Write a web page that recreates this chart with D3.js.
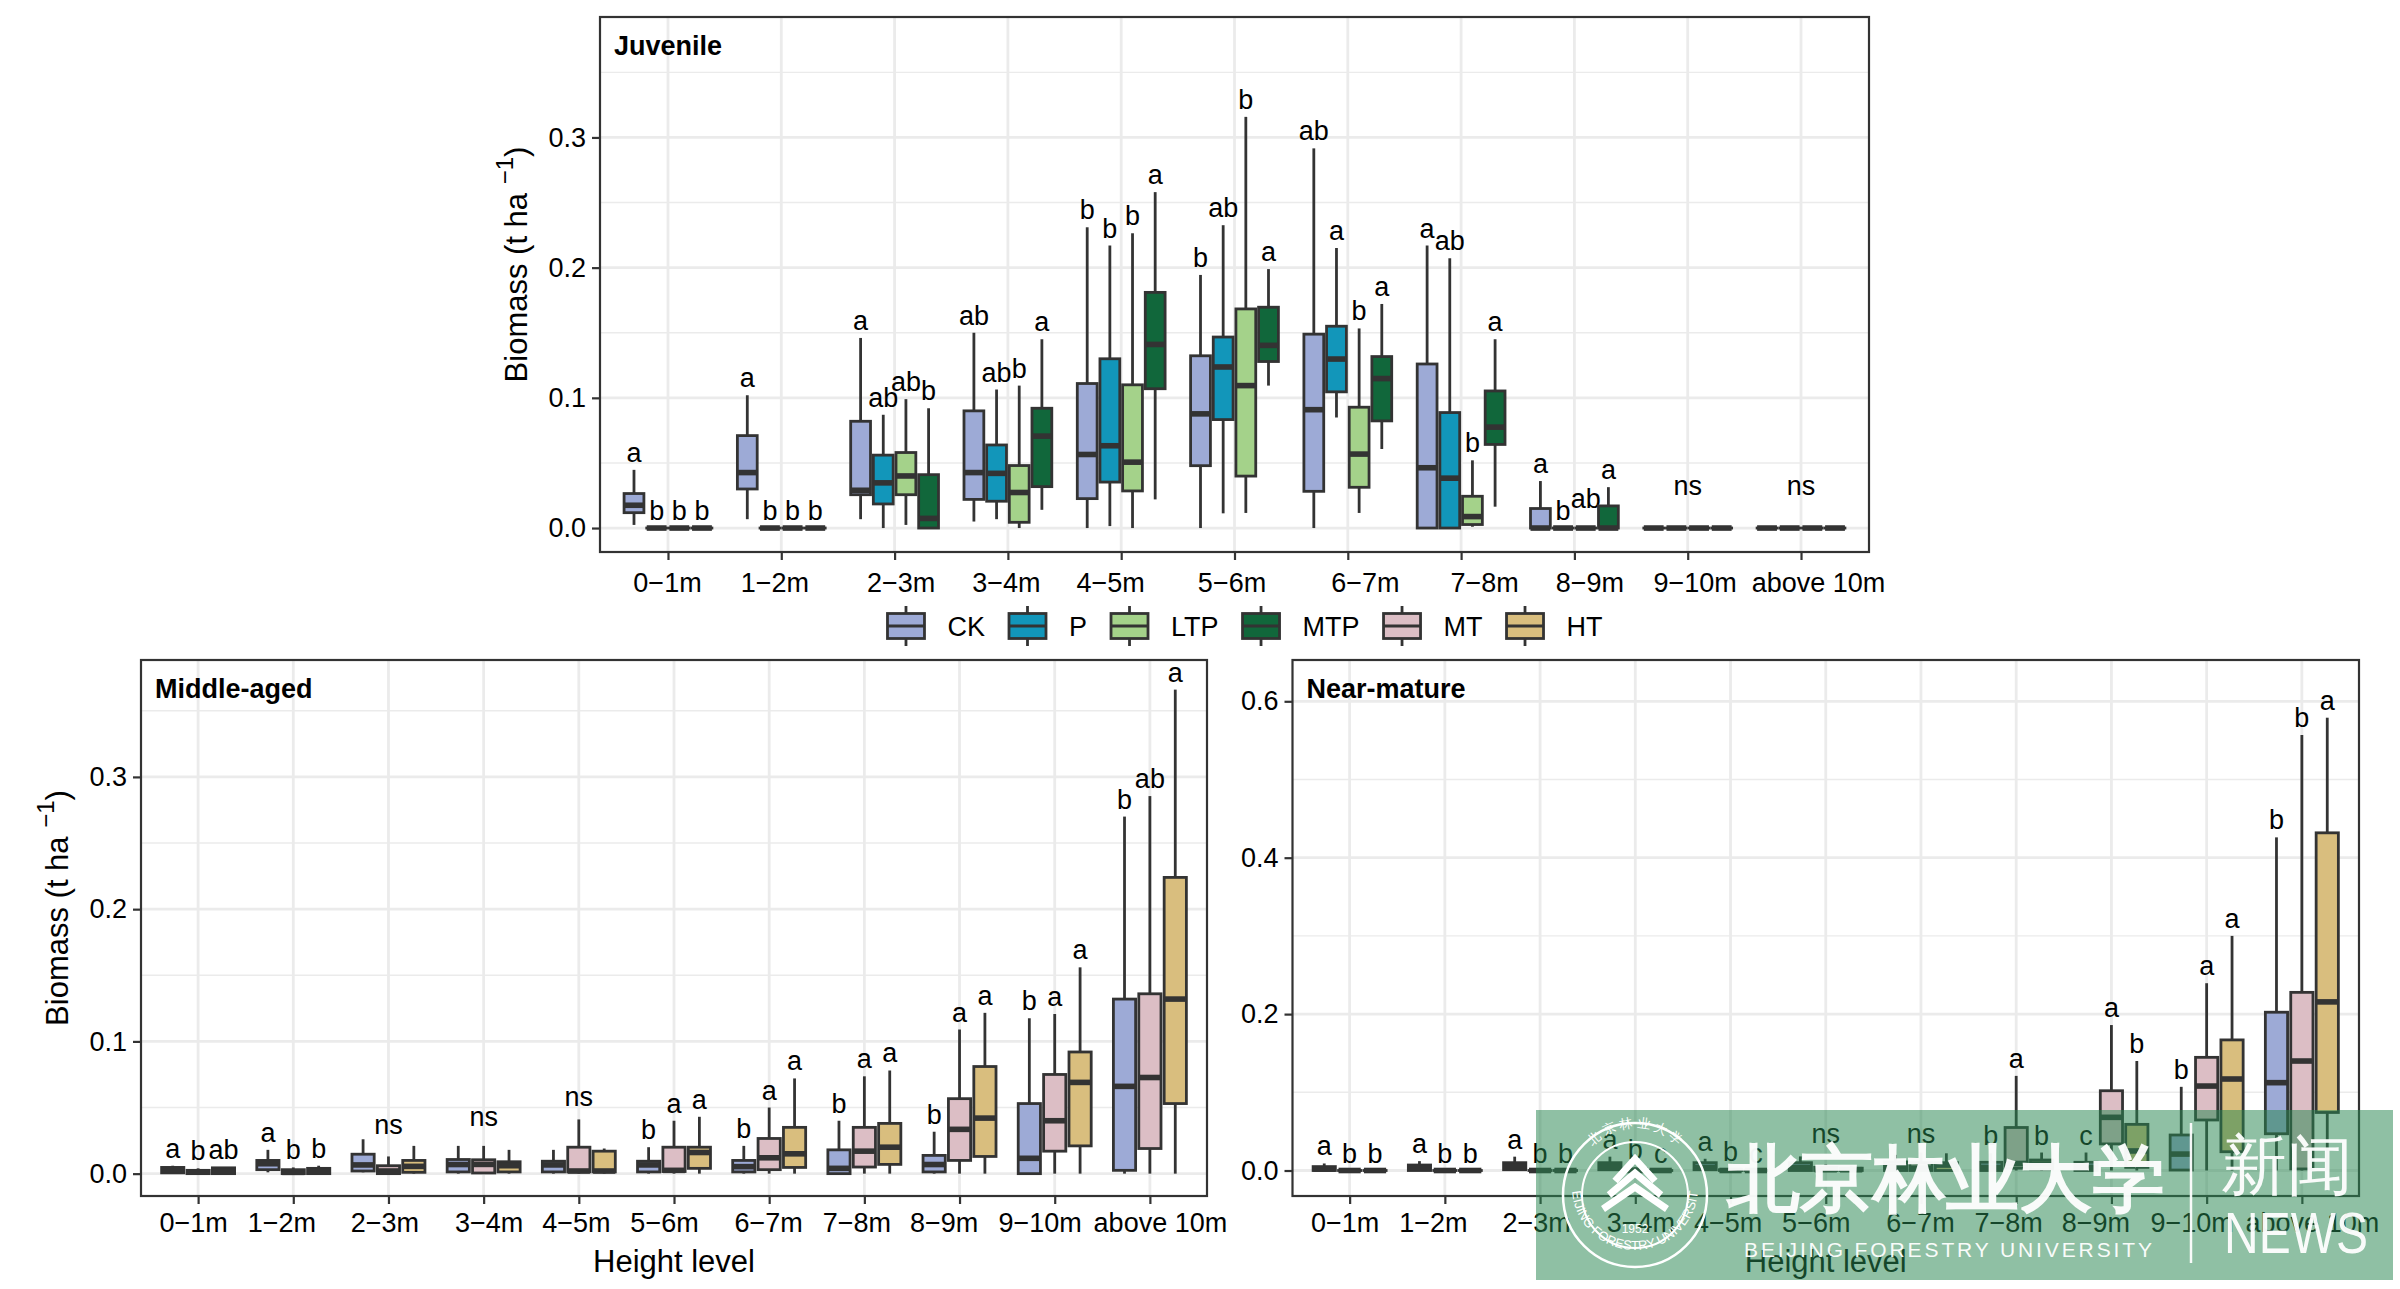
<!DOCTYPE html>
<html lang="en">
<head>
<meta charset="UTF-8">
<script src="https://cdn.jsdelivr.net/npm/d3@7"></script>
<title>Biomass by height level</title>
<style>
    body { margin: 0; background: #fff; }
    svg text { font-family: "Liberation Sans", Arial, Helvetica, sans-serif; }
</style>
</head>
<body>
<svg id="chart" width="2400" height="1289"></svg>
<script>
    // ---- data ----
    const heightLevels = ["0-1m", "1-2m", "2-3m", "3-4m", "4-5m", "5-6m", "6-7m", "7-8m", "8-9m", "9-10m", "above 10m"];
    const treatments = ["CK", "P", "LTP", "MTP", "MT", "HT"];
    const treatmentColors = ["#9DAAD6", "#1296BA", "#A4D28A", "#11673B", "#DCBEC5", "#D9BE7E"];

    // each entry: [lower whisker, Q1, median, Q3, upper whisker]
    const Z = [0, 0, 0, 0, 0];

    // Juvenile stand
    const juvenileCK = [
        [0.0024, 0.0118, 0.0175, 0.0265, 0.0447], [0.0068, 0.030, 0.0426, 0.071, 0.102],
        [0.0068, 0.0256, 0.029, 0.082, 0.146], [0.005, 0.022, 0.0426, 0.090, 0.150],
        [0, 0.0226, 0.0565, 0.111, 0.231], [0, 0.0479, 0.0877, 0.1323, 0.1944],
        [0, 0.0282, 0.0909, 0.1489, 0.2916], [0, 0, 0.0463, 0.126, 0.217],
        [0, 0, 0, 0.015, 0.0361], Z, Z];
    const juvenileP = [
        Z, Z, [0, 0.0185, 0.0347, 0.056, 0.087], [0.0068, 0.0206, 0.042, 0.0638, 0.1064],
        [0.0015, 0.0353, 0.0632, 0.130, 0.217], [0.0113, 0.0833, 0.1237, 0.1467, 0.2326],
        [0.0849, 0.1046, 0.1298, 0.155, 0.2151], [0, 0, 0.0383, 0.0887, 0.2072],
        Z, Z, Z];
    const juvenileLTP = [
        Z, Z, [0.0024, 0.0256, 0.040, 0.058, 0.099], [0, 0.0044, 0.0273, 0.048, 0.1094],
        [0, 0.0285, 0.0506, 0.110, 0.2264], [0.0116, 0.0399, 0.1094, 0.1683, 0.3158],
        [0.0116, 0.0313, 0.0568, 0.0928, 0.1533], [0.001, 0.0027, 0.0088, 0.0244, 0.052],
        Z, Z, Z];
    const juvenileMTP = [
        Z, Z, [0, 0, 0.0074, 0.041, 0.092], [0.014, 0.0318, 0.0706, 0.092, 0.145],
        [0.022, 0.107, 0.141, 0.181, 0.258], [0.1094, 0.1279, 0.1403, 0.1696, 0.1989],
        [0.0607, 0.0823, 0.1148, 0.1317, 0.1721], [0.0164, 0.0642, 0.0775, 0.1053, 0.145],
        [0, 0, 0, 0.017, 0.0314], Z, Z];
    const juvenileLetters = {
        CK:  ["a", "a", "a", "ab", "b", "b", "ab", "a", "a", "", ""],
        P:   ["b", "b", "ab", "ab", "b", "ab", "a", "ab", "b", "", ""],
        LTP: ["b", "b", "ab", "b", "b", "b", "b", "b", "ab", "", ""],
        MTP: ["b", "b", "b", "a", "a", "a", "a", "a", "a", "", ""]
    };
    // letter heights that sit above the whisker top (null = just above whisker)
    const juvenileLetterAt = {
        LTP: [null, null, null, null, null, null, null, null, 0.0154, null, null]
    };
    const juvenileNs = [null, null, null, null, null, null, null, null, null, 0.025, 0.025];

    // Middle-aged stand
    const middleCK = [
        [0, 0.0006, 0.003, 0.0047, 0.006], [0.001, 0.003, 0.0075, 0.010, 0.018],
        [0.001, 0.002, 0.0066, 0.0147, 0.026], [0, 0.0013, 0.0069, 0.0107, 0.021],
        [0, 0.0013, 0.0066, 0.0094, 0.018], [0, 0.0013, 0.0066, 0.0094, 0.020],
        [0, 0.0013, 0.0053, 0.010, 0.021], [0, 0, 0.004, 0.018, 0.040],
        [0, 0.0013, 0.0069, 0.0138, 0.0317], [0, 0, 0.0116, 0.053, 0.1175],
        [0, 0.0025, 0.066, 0.132, 0.270]];
    const middleMT = [
        [0, 0, 0.0013, 0.0025, 0.004], [0, 0, 0.001, 0.003, 0.0047],
        [0, 0, 0.002, 0.006, 0.013], [0, 0.0005, 0.007, 0.0105, 0.021],
        [0, 0.0013, 0.002, 0.020, 0.041], [0, 0.0016, 0.0025, 0.020, 0.040],
        [0, 0.003, 0.012, 0.0266, 0.050], [0, 0.005, 0.017, 0.035, 0.0736],
        [0, 0.010, 0.0335, 0.0567, 0.109], [0, 0.017, 0.040, 0.075, 0.1207],
        [0, 0.019, 0.0727, 0.136, 0.2855]];
    const middleHT = [
        [0, 0, 0.002, 0.0044, 0.0047], [0, 0, 0.002, 0.004, 0.006],
        [0, 0.001, 0.0055, 0.010, 0.021], [0, 0.0013, 0.006, 0.009, 0.018],
        [0, 0.0013, 0.002, 0.017, 0.019], [0, 0.004, 0.016, 0.020, 0.043],
        [0, 0.0047, 0.015, 0.035, 0.072], [0, 0.007, 0.020, 0.038, 0.078],
        [0, 0.013, 0.042, 0.081, 0.1216], [0, 0.021, 0.069, 0.092, 0.156],
        [0, 0.053, 0.132, 0.224, 0.366]];
    const middleLetters = {
        CK: ["a", "a", "", "", "", "b", "b", "b", "b", "b", "b"],
        MT: ["b", "b", "", "", "", "a", "a", "a", "a", "a", "ab"],
        HT: ["ab", "b", "", "", "", "a", "a", "a", "a", "a", "a"]
    };
    const middleNs = [null, null, 0.030, 0.036, 0.051, null, null, null, null, null, null];

    // Near-mature stand
    const nearCK = [
        [0, 0, 0.002, 0.005, 0.009], [0, 0, 0.003, 0.007, 0.012],
        [0, 0.001, 0.005, 0.010, 0.0177], [0, 0.001, 0.005, 0.010, 0.0177],
        [0, 0.001, 0.004, 0.010, 0.015], [0, 0, 0.004, 0.010, 0.018],
        [0, 0, 0.005, 0.011, 0.020], [0, 0, 0.004, 0.0105, 0.022],
        [0, 0, 0.004, 0.0105, 0.023], [0, 0.0006, 0.021, 0.0454, 0.107],
        [0, 0.047, 0.1123, 0.2024, 0.426]];
    const nearMT = [
        Z, Z, Z, [0, 0, 0, 0.002, 0.004],
        [0, 0, 0, 0.001, 0.002], [0, 0, 0.001, 0.004, 0.008],
        [0, 0, 0.003, 0.010, 0.023], [0, 0.003, 0.009, 0.055, 0.121],
        [0, 0.034, 0.068, 0.102, 0.186], [0, 0.0646, 0.108, 0.1447, 0.2395],
        [0, 0.002, 0.140, 0.2278, 0.557]];
    const nearHT = [
        Z, Z, Z, Z, Z,
        [0, 0, 0.001, 0.003, 0.006], [0, 0, 0.007, 0.010, 0.022],
        [0, 0.002, 0.0083, 0.0134, 0.023], [0, 0.004, 0.025, 0.059, 0.140],
        [0, 0.024, 0.117, 0.167, 0.300], [0, 0.0742, 0.2156, 0.4318, 0.579]];
    const nearLetters = {
        CK: ["a", "a", "a", "a", "a", "", "", "b", "c", "b", "b"],
        MT: ["b", "b", "b", "b", "b", "", "", "a", "a", "a", "b"],
        HT: ["b", "b", "b", "c", "c", "", "", "b", "b", "a", "a"]
    };
    const nearNs = [null, null, null, null, null, 0.035, 0.035, null, null, null, null];

    const yTicksSmall = [0, 0.1, 0.2, 0.3];
    const yMinorSmall = [0.05, 0.15, 0.25, 0.35];
    const yTicksLarge = [0, 0.2, 0.4, 0.6];
    const yMinorLarge = [0.1, 0.3, 0.5];

    // ---- drawing ----
    const svg = d3.select("#chart");
    svg.append("rect").attr("width", 2400).attr("height", 1289).attr("fill", "#fff");

    const colorOf = d3.scaleOrdinal(treatments, treatmentColors);
    const dash = s => s.replace("-", "\u2212");
    const FONT = 27;
    const TITLE = 31;
    const LINE = "#333333";

    // the original tick labels are not quite centred on their ticks
    const nudgeTop = [-1, -7, 6, -2, -11, -3, 17, 23, 15, 7, 17];
    const nudgeBottom = [-5, -12, -4, 5, -3, -10, -1, -8, -16, -15, 10];

    function drawPanel(cfg) {
        const g = svg.append("g");
        const x = d3.scalePoint().domain(heightLevels).range([cfg.x0, cfg.x1]).padding(0.6);
        const y = d3.scaleLinear().domain(cfg.domain).range([cfg.y1, cfg.y0]);
        const step = x.step();
        const n = cfg.series.length;
        const slot = 0.8 * step / n;
        const boxW = 0.7 * step / n;

        // grid
        g.selectAll(".minor").data(cfg.minor).join("line")
            .attr("x1", cfg.x0).attr("x2", cfg.x1)
            .attr("y1", d => y(d)).attr("y2", d => y(d))
            .attr("stroke", "#EBEBEB").attr("stroke-width", 1.4);
        g.selectAll(".major").data(cfg.ticks).join("line")
            .attr("x1", cfg.x0).attr("x2", cfg.x1)
            .attr("y1", d => y(d)).attr("y2", d => y(d))
            .attr("stroke", "#EBEBEB").attr("stroke-width", 2.8);
        g.selectAll(".vmajor").data(heightLevels).join("line")
            .attr("x1", d => x(d)).attr("x2", d => x(d))
            .attr("y1", cfg.y0).attr("y2", cfg.y1)
            .attr("stroke", "#EBEBEB").attr("stroke-width", 2.8);

        // boxes
        cfg.series.forEach((s, j) => {
            const off = (j - (n - 1) / 2) * slot;
            const boxes = s.stats.map((st, i) => ({
                st, lvl: heightLevels[i], letter: s.letters[i],
                at: s.letterAt ? s.letterAt[i] : null
            }));
            const bg = g.append("g");
            const cx = d => x(d.lvl) + off;

            bg.selectAll(".wu").data(boxes).join("line")
                .attr("x1", cx).attr("x2", cx)
                .attr("y1", d => y(d.st[3])).attr("y2", d => y(d.st[4]))
                .attr("stroke", LINE).attr("stroke-width", 2.8);
            bg.selectAll(".wl").data(boxes).join("line")
                .attr("x1", cx).attr("x2", cx)
                .attr("y1", d => y(d.st[1])).attr("y2", d => y(d.st[0]))
                .attr("stroke", LINE).attr("stroke-width", 2.8);
            bg.selectAll(".box").data(boxes).join("rect")
                .attr("x", d => cx(d) - boxW / 2).attr("width", boxW)
                .attr("y", d => y(d.st[3]))
                .attr("height", d => Math.max(0.01, y(d.st[1]) - y(d.st[3])))
                .attr("fill", colorOf(s.key))
                .attr("stroke", LINE).attr("stroke-width", 2.8);
            bg.selectAll(".med").data(boxes).join("line")
                .attr("x1", d => cx(d) - boxW / 2).attr("x2", d => cx(d) + boxW / 2)
                .attr("y1", d => y(d.st[2])).attr("y2", d => y(d.st[2]))
                .attr("stroke", LINE).attr("stroke-width", 5.6);
            bg.selectAll(".letter").data(boxes.filter(d => d.letter)).join("text")
                .attr("x", cx)
                .attr("y", d => d.at !== null ? y(d.at) : y(d.st[4]) - 8)
                .attr("text-anchor", "middle").attr("font-size", FONT).attr("fill", "#000")
                .text(d => d.letter);
        });

        // "ns" labels
        g.selectAll(".ns").data(heightLevels.map((l, i) => ({ l, v: cfg.ns[i] })).filter(d => d.v !== null))
            .join("text")
            .attr("x", d => x(d.l)).attr("y", d => y(d.v))
            .attr("text-anchor", "middle").attr("font-size", FONT).attr("fill", "#000")
            .text("ns");

        // panel border
        g.append("rect")
            .attr("x", cfg.x0).attr("y", cfg.y0)
            .attr("width", cfg.x1 - cfg.x0).attr("height", cfg.y1 - cfg.y0)
            .attr("fill", "none").attr("stroke", LINE).attr("stroke-width", 2.2);

        // axes
        const yAxis = g.append("g").attr("transform", `translate(${cfg.x0},0)`)
            .call(d3.axisLeft(y).tickValues(cfg.ticks).tickFormat(d3.format(".1f")).tickSize(8).tickPadding(6));
        const xAxis = g.append("g").attr("transform", `translate(0,${cfg.y1})`)
            .call(d3.axisBottom(x).tickFormat(dash).tickSize(8).tickPadding(cfg.xPad));
        [yAxis, xAxis].forEach(a => {
            a.select(".domain").remove();
            a.selectAll(".tick line").attr("stroke", LINE).attr("stroke-width", 2.2);
            a.selectAll(".tick text").attr("font-size", FONT).attr("fill", "#000")
                .attr("font-family", "Liberation Sans, Arial, sans-serif");
        });
        xAxis.selectAll(".tick text").attr("dx", (d, i) => cfg.nudge[i]);

        // panel title
        g.append("text").attr("x", cfg.x0 + 14).attr("y", cfg.y0 + 38)
            .attr("font-size", FONT).attr("font-weight", "bold").attr("fill", "#000")
            .text(cfg.title);

        if (cfg.yTitle) {
            const t = g.append("text")
                .attr("transform", `translate(${cfg.x0 - 73},${(cfg.y0 + cfg.y1) / 2 - 20}) rotate(-90)`)
                .attr("text-anchor", "middle").attr("font-size", TITLE).attr("fill", "#000");
            t.append("tspan").text("Biomass (t ha ");
            t.append("tspan").attr("dy", -14).attr("font-size", 24).text("\u22121");
            t.append("tspan").attr("dy", 14).text(")");
        }
        if (cfg.xTitle) {
            g.append("text").attr("x", (cfg.x0 + cfg.x1) / 2).attr("y", cfg.y1 + 76)
                .attr("text-anchor", "middle").attr("font-size", TITLE).attr("fill", "#000")
                .text("Height level");
        }
    }

    drawPanel({
        title: "Juvenile", x0: 600, x1: 1869, y0: 17, y1: 552,
        domain: [-0.0184, 0.3925], ticks: yTicksSmall, minor: yMinorSmall, xPad: 13, nudge: nudgeTop,
        series: [
            { key: "CK", stats: juvenileCK, letters: juvenileLetters.CK },
            { key: "P", stats: juvenileP, letters: juvenileLetters.P },
            { key: "LTP", stats: juvenileLTP, letters: juvenileLetters.LTP, letterAt: juvenileLetterAt.LTP },
            { key: "MTP", stats: juvenileMTP, letters: juvenileLetters.MTP }
        ],
        ns: juvenileNs, yTitle: true, xTitle: false
    });
    drawPanel({
        title: "Middle-aged", x0: 141, x1: 1207, y0: 660, y1: 1196,
        domain: [-0.0169, 0.3884], ticks: yTicksSmall, minor: yMinorSmall, xPad: 9, nudge: nudgeBottom,
        series: [
            { key: "CK", stats: middleCK, letters: middleLetters.CK },
            { key: "MT", stats: middleMT, letters: middleLetters.MT },
            { key: "HT", stats: middleHT, letters: middleLetters.HT }
        ],
        ns: middleNs, yTitle: true, xTitle: true
    });
    drawPanel({
        title: "Near-mature", x0: 1292.5, x1: 2359, y0: 660, y1: 1196,
        domain: [-0.0326, 0.6528], ticks: yTicksLarge, minor: yMinorLarge, xPad: 9, nudge: nudgeBottom,
        series: [
            { key: "CK", stats: nearCK, letters: nearLetters.CK },
            { key: "MT", stats: nearMT, letters: nearLetters.MT },
            { key: "HT", stats: nearHT, letters: nearLetters.HT }
        ],
        ns: nearNs, yTitle: false, xTitle: true
    });

    // ---- legend ----
    const legend = svg.append("g");
    const legendY = 626;
    let lx = 0;
    const items = [];
    treatments.forEach(t => {
        const item = legend.append("g");
        item.append("line").attr("x1", 18.5).attr("x2", 18.5).attr("y1", -20).attr("y2", 20)
            .attr("stroke", LINE).attr("stroke-width", 2.8);
        item.append("rect").attr("x", 0).attr("y", -12.5).attr("width", 37).attr("height", 25)
            .attr("fill", colorOf(t)).attr("stroke", LINE).attr("stroke-width", 2.8);
        item.append("line").attr("x1", 0).attr("x2", 37).attr("y1", 0).attr("y2", 0)
            .attr("stroke", LINE).attr("stroke-width", 2.8);
        const txt = item.append("text").attr("x", 60).attr("y", 10)
            .attr("font-size", FONT).attr("fill", "#000").text(t);
        const w = txt.node().getComputedTextLength();
        items.push({ item, x: lx });
        lx += 60 + w + 24;
    });
    const legendW = lx - 24;
    const legendX0 = 1245 - legendW / 2;
    items.forEach(d => d.item.attr("transform", `translate(${legendX0 + d.x},${legendY})`));

    // ---- watermark ----
    const wm = svg.append("g");
    wm.append("rect").attr("x", 1536).attr("y", 1110).attr("width", 857).attr("height", 170)
        .attr("fill", "rgb(40,135,80)").attr("opacity", 0.52);
    const logo = wm.append("g").attr("transform", "translate(1635,1195)")
        .attr("fill", "none").attr("stroke", "#fff");
    logo.append("circle").attr("r", 72).attr("stroke-width", 2.5);
    logo.append("circle").attr("r", 53).attr("stroke-width", 2);
    logo.append("path").attr("id", "logoArc")
        .attr("d", "M -63 -8 A 63 63 0 0 0 63 -8").attr("stroke", "none");
    logo.append("text").attr("fill", "#fff").attr("stroke", "none").attr("font-size", 13)
        .append("textPath").attr("href", "#logoArc").attr("startOffset", "50%")
        .attr("text-anchor", "middle").text("BEIJING FORESTRY UNIVERSITY");
    logo.append("path").attr("id", "logoTop")
        .attr("d", "M -58 -10 A 58 58 0 0 1 58 -10").attr("stroke", "none");
    logo.append("text").attr("fill", "#fff").attr("stroke", "none").attr("font-size", 13)
        .attr("font-family", "Noto Sans CJK SC")
        .append("textPath").attr("href", "#logoTop").attr("startOffset", "50%")
        .attr("text-anchor", "middle").text("北 京 林 业 大 学");
    [0, 1, 2].forEach(k => {
        logo.append("path")
            .attr("d", `M ${-20 - k * 6} ${-14 + k * 14} L 0 ${-36 + k * 14} L ${20 + k * 6} ${-14 + k * 14}`)
            .attr("stroke-width", 7).attr("stroke-linejoin", "miter");
    });
    logo.append("text").attr("y", 38).attr("fill", "#fff").attr("stroke", "none")
        .attr("font-size", 12).attr("text-anchor", "middle").text("1952");

    wm.append("text").attr("x", 1727).attr("y", 1204)
        .attr("font-family", "Noto Sans CJK SC").attr("font-weight", 900).attr("font-size", 73)
        .attr("fill", "#fff").attr("opacity", 0.95).text("北京林业大学");
    wm.append("text").attr("x", 1744).attr("y", 1257)
        .attr("font-family", "Noto Sans").attr("font-size", 21)
        .attr("textLength", 408).attr("lengthAdjust", "spacing")
        .attr("fill", "#fff").attr("opacity", 0.95).text("BEIJING FORESTRY UNIVERSITY");
    wm.append("line").attr("x1", 2191).attr("x2", 2191).attr("y1", 1123).attr("y2", 1263)
        .attr("stroke", "#fff").attr("stroke-width", 2.5).attr("opacity", 0.95);
    wm.append("text").attr("x", 2221).attr("y", 1188)
        .attr("font-family", "Noto Sans CJK SC").attr("font-size", 66)
        .attr("fill", "#fff").attr("opacity", 0.95).text("新闻");
    wm.append("text").attr("x", 2224).attr("y", 1253)
        .attr("font-family", "Noto Sans").attr("font-size", 58)
        .attr("textLength", 144).attr("lengthAdjust", "spacingAndGlyphs")
        .attr("fill", "#fff").attr("opacity", 0.95).text("NEWS");
</script>
</body>
</html>
